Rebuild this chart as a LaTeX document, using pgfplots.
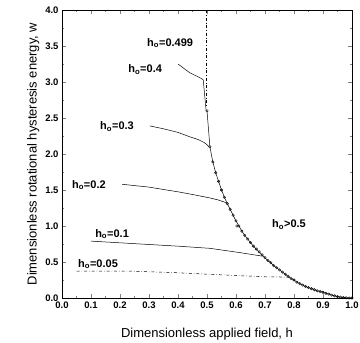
\documentclass[border=0pt]{standalone}
\usepackage{pgfplots}
\pgfplotsset{compat=1.18}
\usepackage{fontspec}
\setmainfont{Liberation Sans}
\setsansfont{Liberation Sans}
\begin{document}
\begin{tikzpicture}
\begin{axis}[
  scale only axis, width=290pt, height=288pt,
  xmin=0, xmax=1, ymin=0, ymax=4,
  xtick={0,0.1,...,1.0}, ytick={0,0.5,...,4},
  minor x tick num=1, minor y tick num=1,
  tick align=inside, tick pos=both,
  major tick length=4pt, minor tick length=2pt,
  xticklabel style={/pgf/number format/.cd,fixed,fixed zerofill,precision=1},
  yticklabel style={/pgf/number format/.cd,fixed,fixed zerofill,precision=1},
  /pgf/number format/assume math mode=true,
  ticklabel style={font=\bfseries\fontsize{9.5}{11}\selectfont},
  xlabel={Dimensionless applied field, h},
  ylabel={Dimensionless rotational hysteresis energy, w},
  label style={font=\fontsize{13}{15}\selectfont},
  xlabel style={yshift=-13pt},
  ylabel style={yshift=-1pt},
  axis line style={line width=0.8pt},
  cycle list={{black,solid}},
  clip=false,
]
% h0 > 0.5 envelope with circles
\addplot[black, line width=0.5pt, mark=o, mark size=1.25pt, mark options={line width=0.4pt,solid}] coordinates {
(0.50,2.60)(0.51,2.10)(0.52,1.89)(0.53,1.74)(0.54,1.62)(0.55,1.50)(0.56,1.40)
(0.57,1.31)(0.58,1.23)(0.59,1.15)(0.60,1.07)(0.61,1.00)(0.62,0.93)(0.63,0.87)
(0.64,0.82)(0.65,0.77)(0.66,0.72)(0.67,0.68)(0.68,0.64)(0.69,0.60)(0.70,0.56)
(0.71,0.52)(0.72,0.49)(0.73,0.45)(0.74,0.42)(0.75,0.39)(0.76,0.36)(0.77,0.33)
(0.78,0.30)(0.79,0.27)(0.80,0.25)(0.81,0.22)(0.82,0.20)(0.83,0.18)(0.84,0.16)
(0.85,0.145)(0.86,0.13)(0.87,0.115)(0.88,0.10)(0.89,0.09)(0.90,0.08)(0.91,0.065)
(0.92,0.055)(0.93,0.04)(0.94,0.03)(0.95,0.02)(0.96,0.012)(0.97,0.007)(0.98,0.003)
(0.99,0.001)(1.00,0.0)};
% h0 = 0.499
\addplot[black, line width=0.5pt, dash dot, no marks] coordinates {(0.499,4.0)(0.499,2.65)};
% h0 = 0.4
\addplot[black, line width=0.5pt, no marks] coordinates {(0.40,3.25)(0.42,3.19)(0.44,3.13)(0.46,3.09)(0.48,3.05)(0.487,3.03)(0.497,2.6)};
% h0 = 0.3
\addplot[black, line width=0.5pt, no marks] coordinates {(0.303,2.39)(0.35,2.35)(0.40,2.30)(0.44,2.24)(0.47,2.20)(0.49,2.16)(0.50,2.13)(0.507,2.10)};
% h0 = 0.2
\addplot[black, line width=0.5pt, no marks] coordinates {(0.207,1.58)(0.30,1.54)(0.407,1.47)(0.46,1.43)(0.51,1.39)(0.54,1.36)(0.569,1.32)};
% h0 = 0.1
\addplot[black, line width=0.5pt, no marks] coordinates {(0.10,0.79)(0.228,0.76)(0.40,0.72)(0.51,0.69)(0.614,0.63)(0.693,0.58)};
% h0 = 0.05
\addplot[black, line width=0.5pt, dash dot, no marks] coordinates {(0.05,0.375)(0.224,0.375)(0.40,0.35)(0.614,0.31)(0.70,0.295)(0.78,0.29)};
% legend marker for h0>0.5
\addplot[black, only marks, mark=o, mark size=1.25pt] coordinates {(0.603,1.0)};
\begin{scope}[font=\bfseries\fontsize{11}{13}\selectfont, inner sep=0pt]
\node[anchor=west] at (axis cs:0.293,3.54) {h$_\mathbf{o}$=0.499};
\node[anchor=west] at (axis cs:0.228,3.17) {h$_\mathbf{o}$=0.4};
\node[anchor=west] at (axis cs:0.131,2.38) {h$_\mathbf{o}$=0.3};
\node[anchor=west] at (axis cs:0.034,1.57) {h$_\mathbf{o}$=0.2};
\node[anchor=west] at (axis cs:0.114,0.89) {h$_\mathbf{o}$=0.1};
\node[anchor=west] at (axis cs:0.055,0.47) {h$_\mathbf{o}$=0.05};
\node[anchor=west] at (axis cs:0.724,1.02) {h$_\mathbf{o}$>0.5};
\end{scope}
\end{axis}
\pgfresetboundingbox
\path[use as bounding box] (current axis.south west) ++(-62pt,-44pt) rectangle ([shift={(8pt,10pt)}]current axis.north east);
\end{tikzpicture}
\end{document}
